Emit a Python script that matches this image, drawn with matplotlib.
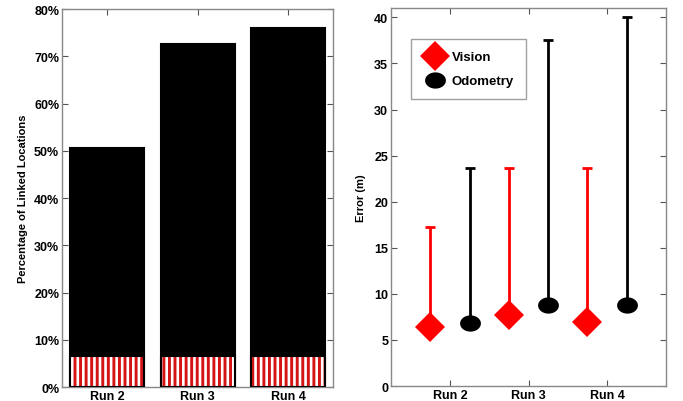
import numpy as np
import matplotlib
matplotlib.use("Agg")
import matplotlib.pyplot as plt
from matplotlib.path import Path

plt.rcParams['font.family'] = ['Liberation Sans', 'DejaVu Sans']
plt.rcParams['font.weight'] = 'bold'
plt.rcParams['hatch.linewidth'] = 2.1

# data
runs = ["Run 2", "Run 3", "Run 4"]
linked_pct = [50.6, 72.7, 76.0]
vision_pct = [6.6, 6.6, 6.6]

vision_err = [6.45, 7.7, 6.9]
vision_max = [17.3, 23.6, 23.6]
odo_err = [6.85, 8.8, 8.8]
odo_max = [23.6, 37.5, 40.0]

x = np.arange(1, len(runs) + 1)
frame_col = '#888888'

fig = plt.figure(figsize=(6.83, 4.02), dpi=100)

# left: linked locations
ax1 = fig.add_axes([0.0908, 0.0348, 0.397, 0.940])
ax1.bar(x, linked_pct, width=0.82, color='black', edgecolor='black', linewidth=1.5, zorder=2)
ax1.bar(x, vision_pct, width=0.82, color='white', edgecolor='#d41414', hatch='|||', linewidth=0, zorder=3)
ax1.bar(x, vision_pct, width=0.82, color='none', edgecolor='black', linewidth=1.5, zorder=4)
ax1.set_xlim(0.5, 3.5)
ax1.set_ylim(0, 80)
ax1.set_xticks(x)
ax1.set_xticklabels(runs)
ax1.set_yticks(np.arange(0, 81, 10))
ax1.set_yticklabels([f"{v}%" for v in range(0, 81, 10)])
ax1.set_ylabel("Percentage of Linked Locations", fontsize=8, fontweight='bold', labelpad=4)

# right: error
ellipse = Path(np.column_stack([np.cos(np.linspace(0, 2*np.pi, 60)),
                                0.78*np.sin(np.linspace(0, 2*np.pi, 60))]), closed=True)

ax2 = fig.add_axes([0.5725, 0.0373, 0.4026, 0.940])
xv = x - 0.25
xo = x + 0.25
ax2.errorbar(xv, vision_err, yerr=[np.zeros(3), np.array(vision_max) - np.array(vision_err)],
             fmt='none', ecolor='red', elinewidth=2, capsize=3.3, capthick=2, zorder=2)
ax2.errorbar(xo, odo_err, yerr=[np.zeros(3), np.array(odo_max) - np.array(odo_err)],
             fmt='none', ecolor='black', elinewidth=2, capsize=3.3, capthick=2, zorder=2)
ax2.plot(xv, vision_err, 'D', color='red', markersize=15.5, markeredgewidth=0, zorder=3, label='Vision')
ax2.plot(xo, odo_err, marker=ellipse, linestyle='none', color='black', markersize=15,
         markeredgewidth=0, zorder=3, label='Odometry')
ax2.set_xlim(0.25, 3.75)
ax2.set_ylim(0, 41)
ax2.set_xticks(x)
ax2.set_xticklabels(runs)
ax2.set_yticks(np.arange(0, 41, 5))
ax2.set_ylabel("Error (m)", fontsize=8, fontweight='bold', labelpad=6)
leg = ax2.legend(loc='upper left', bbox_to_anchor=(0.073, 0.918), borderaxespad=0,
                 fontsize=9.5, fancybox=False, edgecolor=frame_col, borderpad=0.9,
                 labelspacing=0.9, handletextpad=0.4, markerscale=1.0, handlelength=1.8)
leg.get_frame().set_linewidth(1.0)
for t in leg.get_texts():
    t.set_fontweight('bold')

for ax in (ax1, ax2):
    for s in ax.spines.values():
        s.set_color(frame_col)
        s.set_linewidth(1.0)
    ax.tick_params(direction='in', top=True, right=True, length=4, width=0.8,
                   color='#555555', labelsize=9, pad=2)
    for lab in ax.get_xticklabels() + ax.get_yticklabels():
        lab.set_fontweight('bold')

fig.savefig("out.png", dpi=100)
